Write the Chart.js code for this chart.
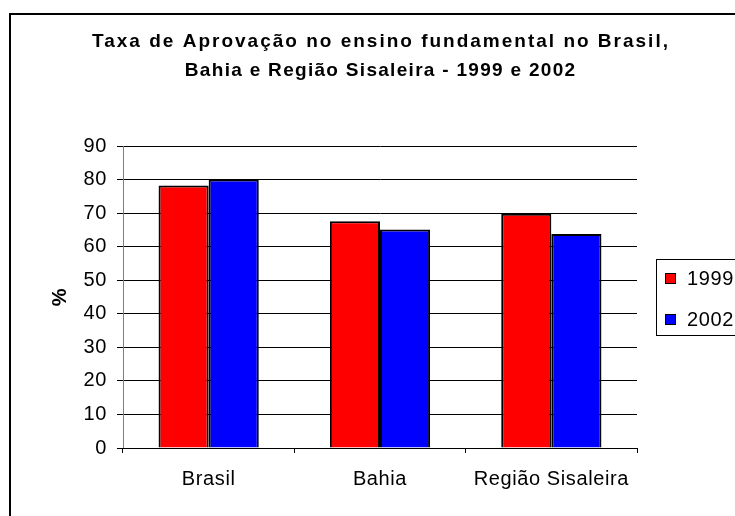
<!DOCTYPE html>
<html>
<head>
<meta charset="utf-8">
<script src="https://cdn.jsdelivr.net/npm/chart.js@4/dist/chart.umd.min.js"></script>
<style>
  html, body { margin: 0; padding: 0; background: #fff; }
  #wrap { width: 735px; height: 516px; }
</style>
</head>
<body>
<div id="wrap"><canvas id="myChart"></canvas></div>
<script>
var categories = ["Brasil", "Bahia", "Região Sisaleira"];
var years = ["1999", "2002"];
var values1999 = [78.2, 67.6, 69.8];
var values2002 = [80, 65.1, 63.8];
var barColors = ["#ff0000", "#0000ff"];
var titleLines = ["Taxa de Aprovação no ensino fundamental no Brasil,",
                  "Bahia e Região Sisaleira - 1999 e 2002"];
var yMin = 0, yMax = 90, yStep = 10;

var font = "Arial, 'Liberation Sans', sans-serif";

// white page, slightly spaced text (Excel look) and the cropped outer frame
var framePlugin = {
    id: "frame",
    beforeDraw: function (chart) {
        var ctx = chart.ctx;
        ctx.save();
        ctx.fillStyle = "#fff";
        ctx.fillRect(0, 0, chart.width, chart.height);
        ctx.restore();
        ctx.letterSpacing = "0.6px";
    },
    afterDraw: function (chart) {
        var ctx = chart.ctx;
        ctx.letterSpacing = "0px";
        ctx.save();
        ctx.strokeStyle = "#000";
        ctx.lineWidth = 2;
        ctx.beginPath();
        ctx.moveTo(10, chart.height);
        ctx.lineTo(10, 14);
        ctx.lineTo(chart.width, 14);
        ctx.stroke();
        ctx.restore();
    }
};

// two-line bold title centred over the plot area
var titleSpacing = [2.0, 1.3];
var titlePlugin = {
    id: "wideTitle",
    afterDraw: function (chart) {
        var ctx = chart.ctx;
        var area = chart.chartArea;
        var cx = (area.left + area.right) / 2;
        ctx.save();
        ctx.font = "bold 19px " + font;
        ctx.fillStyle = "#000";
        ctx.textAlign = "center";
        ctx.textBaseline = "middle";
        titleLines.forEach(function (line, i) {
            ctx.letterSpacing = titleSpacing[i] + "px";
            ctx.fillText(line, cx + titleSpacing[i] / 2, 42 + i * 29);
        });
        ctx.restore();
    }
};

// boxed legend on the right, cut off by the page edge like the original
var legendPlugin = {
    id: "boxLegend",
    afterDraw: function (chart) {
        var ctx = chart.ctx;
        var area = chart.chartArea;
        var mid = (area.top + area.bottom) / 2;
        var x = area.right + 19, top = mid - 38;
        ctx.save();
        ctx.letterSpacing = "0.6px";
        ctx.strokeStyle = "#000";
        ctx.lineWidth = 1;
        ctx.strokeRect(x + 0.5, top + 0.5, chart.width, 76);
        ctx.font = "20px " + font;
        ctx.textBaseline = "middle";
        chart.data.datasets.forEach(function (ds, i) {
            var cy = top + 19 + i * 41;
            ctx.fillStyle = ds.backgroundColor;
            ctx.fillRect(x + 9, cy - 5, 10, 10);
            ctx.strokeStyle = "#000";
            ctx.strokeRect(x + 9.5, cy - 4.5, 10, 10);
            ctx.fillStyle = "#000";
            ctx.fillText(ds.label, x + 31, cy + 1);
        });
        ctx.restore();
    }
};

new Chart("myChart", {
    type: "bar",
    data: {
        labels: categories,
        datasets: [{
            label: years[0],
            data: values1999,
            backgroundColor: barColors[0],
            borderColor: "#000",
            borderWidth: 2
        }, {
            label: years[1],
            data: values2002,
            backgroundColor: barColors[1],
            borderColor: "#000",
            borderWidth: 2
        }]
    },
    plugins: [framePlugin, titlePlugin, legendPlugin],
    options: {
        responsive: true,
        maintainAspectRatio: false,
        animation: false,
        layout: { padding: { left: 10, right: 98, top: 146, bottom: 0 } },
        datasets: { bar: { categoryPercentage: 0.585, barPercentage: 1 } },
        plugins: {
            legend: { display: false },
            tooltip: { enabled: false },
            title: { display: false }
        },
        scales: {
            y: {
                min: yMin,
                max: yMax,
                ticks: {
                    stepSize: yStep,
                    color: "#000",
                    padding: 10,
                    font: { family: font, size: 20 }
                },
                grid: { color: "#000", tickColor: "#000", tickLength: 6, lineWidth: 1 },
                border: { color: "#808080", width: 1 },
                title: {
                    display: true,
                    text: "%",
                    color: "#000",
                    font: { family: font, size: 20, weight: "bold" },
                    padding: { top: 38, bottom: 0 }
                },
                afterFit: function (scale) { scale.width = 113; }
            },
            x: {
                ticks: {
                    color: "#000",
                    padding: 14,
                    font: { family: font, size: 20 }
                },
                grid: { drawOnChartArea: false, color: "#000", tickLength: 5 },
                border: { color: "#000", width: 1 },
                afterFit: function (scale) { scale.height = 68; }
            }
        }
    }
});
</script>
</body>
</html>
